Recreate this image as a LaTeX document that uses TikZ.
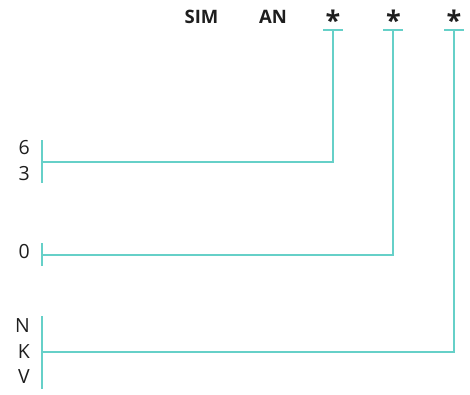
\documentclass[tikz,border=0pt]{standalone}
\usepackage{fontspec}
\setmainfont{Open Sans}
\definecolor{teal1}{HTML}{66D0C8}
\definecolor{txt}{HTML}{1E1E1E}
\begin{document}
\begin{tikzpicture}[x=1pt,y=-1pt,
  lbl/.style={anchor=east,inner sep=0pt,align=right,text=txt,font=\fontsize{19.5}{25.5}\selectfont},
  head/.style={anchor=center,inner sep=0pt,text=txt,font=\bfseries\fontsize{18.5}{22}\selectfont},
  star/.style={anchor=center,inner sep=0pt,text=txt,font=\bfseries\fontsize{27}{27}\selectfont},
  ln/.style={draw=teal1,line width=1.4pt}]
\useasboundingbox (0,0) rectangle (470,394);
% header
\node[head] (sim) at (201.5,16.5) {SIM};
\node[head] (an) at (273,16.5) {AN};
\node[star] (s1) at (333,20.5) {*};
\node[star] (s2) at (393.5,20.5) {*};
\node[star] (s3) at (454,20.5) {*};
% tick coordinates
\coordinate (t1) at (333,30);
\coordinate (t2) at (393,30);
\coordinate (t3) at (454,30);
\draw[ln] ([xshift=-10pt]t1) -- ([xshift=10pt]t1);
\draw[ln] ([xshift=-10pt]t2) -- ([xshift=10pt]t2);
\draw[ln] ([xshift=-10pt]t3) -- ([xshift=10pt]t3);
% left labels
\node[lbl] (l1) at (30,160.5) {6\\3};
\node[lbl] (l2) at (30,252) {0};
\node[lbl] (l3) at (30,351.5) {N\\K\\V};
% left bars
\coordinate (b1t) at (42,140); \coordinate (b1b) at (42,183); \coordinate (b1) at (42,162);
\coordinate (b2t) at (42,243); \coordinate (b2b) at (42,266); \coordinate (b2) at (42,255);
\coordinate (b3t) at (42,316); \coordinate (b3b) at (42,389); \coordinate (b3) at (42,352);
\draw[ln] (b1t) -- (b1b);
\draw[ln] (b2t) -- (b2b);
\draw[ln] (b3t) -- (b3b);
% connectors
\draw[ln] (b1) -| (t1);
\draw[ln] (b2) -| (t2);
\draw[ln] (b3) -| (t3);
\end{tikzpicture}
\end{document}
